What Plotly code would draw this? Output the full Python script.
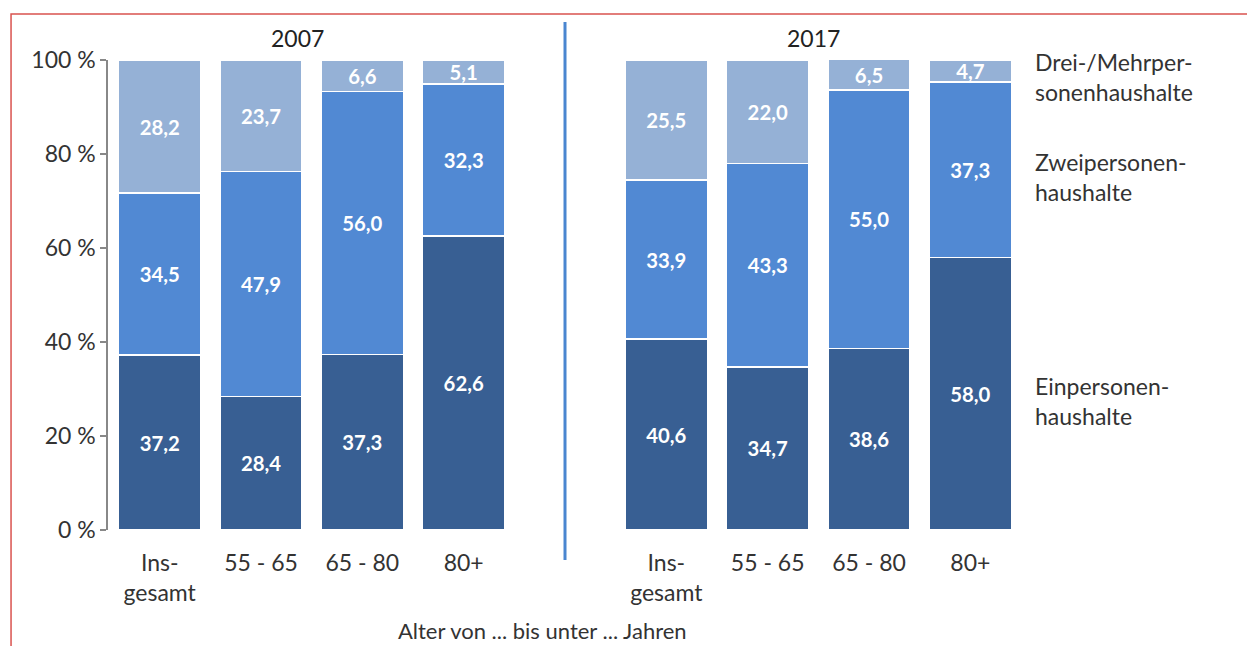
import plotly.graph_objects as go

# Haushaltsgröße nach Alter, Anteile in %
age_groups = ["Ins-<br>gesamt", "55 - 65", "65 - 80", "80+"]
years = ["2007", "2017"]

ein_2007 = [37.2, 28.4, 37.3, 62.6]
zwei_2007 = [34.5, 47.9, 56.0, 32.3]
drei_2007 = [28.2, 23.7, 6.6, 5.1]

ein_2017 = [40.6, 34.7, 38.6, 58.0]
zwei_2017 = [33.9, 43.3, 55.0, 37.3]
drei_2017 = [25.5, 22.0, 6.5, 4.7]

series_names = ["Einpersonen-<br>haushalte", "Zweipersonen-<br>haushalte", "Drei-/Mehrper-<br>sonenhaushalte"]
series_colors = ["#385F93", "#5189D3", "#95B1D6"]

y_ticks = [0, 20, 40, 60, 80, 100]
y_ticktext = ["0 %", "20 %", "40 %", "60 %", "80 %", "100 %"]

# 2007 at positions 0..3, 2017 at 5..8, divider at 4
x_pos = [0, 1, 2, 3, 5, 6, 7, 8]
series_values = [ein_2007 + ein_2017, zwei_2007 + zwei_2017, drei_2007 + drei_2017]

FONT = "Lato, 'Open Sans', sans-serif"
TXT = "#333333"

fig = go.Figure()
for name, vals, col in zip(series_names, series_values, series_colors):
    fig.add_trace(go.Bar(
        x=x_pos,
        y=vals,
        name=name,
        width=0.81,
        marker=dict(color=col, line=dict(color="white", width=1.5)),
        texttemplate="<b>%{y:.1f}</b>",
        textposition="inside",
        insidetextanchor="middle",
        textfont=dict(color="white", size=24, family=FONT),
        showlegend=False,
    ))

fig.update_layout(
    barmode="stack",
    separators=",.",
    width=1255,
    height=646,
    margin=dict(l=100, r=242, t=52, b=124),
    paper_bgcolor="white",
    plot_bgcolor="white",
    font=dict(family=FONT, size=23, color=TXT),
    uniformtext=dict(minsize=18, mode="show"),
)

fig.update_xaxes(
    range=[-0.51, 8.5],
    tickvals=x_pos,
    ticktext=age_groups + age_groups,
    ticks="outside",
    ticklen=12,
    tickcolor="rgba(0,0,0,0)",
    showline=False,
    showgrid=False,
    zeroline=False,
    tickfont=dict(size=23, color=TXT),
)
fig.update_yaxes(
    range=[0, 100],
    tickvals=y_ticks,
    ticktext=y_ticktext,
    ticks="outside",
    ticklen=6,
    tickcolor="#888888",
    tickwidth=1.5,
    showline=True,
    linecolor="#888888",
    linewidth=1.5,
    showgrid=False,
    zeroline=False,
    tickfont=dict(size=23, color=TXT),
)

# year titles
for xx, yr in zip([1.36, 6.45], years):
    fig.add_annotation(x=xx, xref="x", y=1.047, yref="paper", yanchor="middle", text=yr,
                       showarrow=False, font=dict(size=23, color="#222222"))

# series labels on the right
for name, yy in zip(series_names, [0.274, 0.751, 0.964]):
    fig.add_annotation(x=1.013, xref="paper", y=yy, yref="paper", yanchor="middle", text=name,
                       showarrow=False, xanchor="left", align="left", font=dict(size=23, color=TXT))

# axis title
fig.add_annotation(x=0.476, xref="paper", y=-0.214, yref="paper", yanchor="middle",
                   text="Alter von ... bis unter ... Jahren", showarrow=False,
                   font=dict(size=22, color=TXT))

# divider between years
fig.add_shape(type="line", xref="x", yref="paper", x0=4, x1=4, y0=-0.064, y1=1.081,
              line=dict(color="#4A86D0", width=3))

# red frame
fig.add_shape(type="rect", xref="paper", yref="paper", x0=-0.1062, x1=1.4, y0=-0.4, y1=1.098,
              line=dict(color="#D9534F", width=1.5))

fig.write_html("out.html")
